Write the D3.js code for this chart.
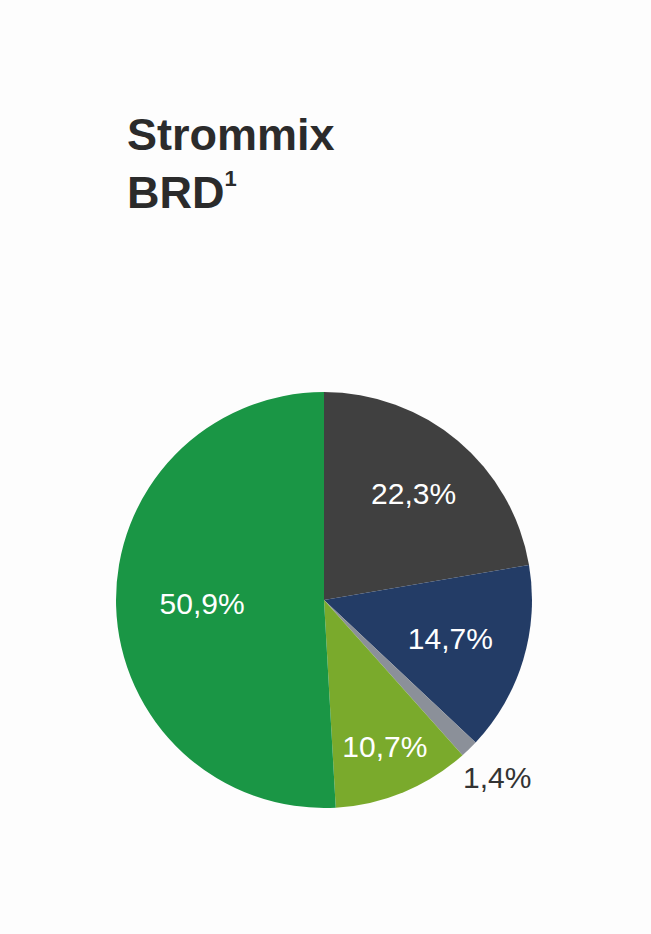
<!DOCTYPE html>
<html>
<head>
<meta charset="utf-8">
<script src="https://cdn.jsdelivr.net/npm/d3@7"></script>
<style>
  body { margin: 0; background: #fdfdfd; }
  text { font-family: "Liberation Sans", Arial, sans-serif; }
</style>
</head>
<body>
<svg id="chart" width="651" height="934"></svg>
<script>
(function () {
  var categories = ['Kohle', 'Erdgas', 'Sonstige', 'Kernenergie', 'Erneuerbare'];
  var values = [22.3, 14.7, 1.4, 10.7, 50.9];
  var labels = ['22,3%', '14,7%', '1,4%', '10,7%', '50,9%'];

  var colours = ['#404040', '#233c66', '#8b9099', '#7aaa2c', '#1a9645'];
  var labelColours = ['#fff', '#fff', '#333', '#fff', '#fff'];
  var labelRadius = [139, 132, 248, 159, 122];

  var svg = d3.select('#chart');
  var cx = 324, cy = 600, r = 208;

  var title = svg.append('text')
    .attr('x', 127).attr('y', 150)
    .attr('font-size', 45).attr('font-weight', 'bold').attr('fill', '#2b2b2b');
  title.append('tspan').attr('x', 127).text('Strommix');
  title.append('tspan').attr('x', 127).attr('dy', 58).text('BRD');
  title.append('tspan').attr('font-size', 22).attr('dy', -22).text('1');

  var pie = d3.pie().sort(null).value(function (d) { return d; });
  var arc = d3.arc().innerRadius(0).outerRadius(r);
  var arcs = pie(values);

  var g = svg.append('g').attr('transform', 'translate(' + cx + ',' + cy + ')');

  g.selectAll('path').data(arcs)
    .enter().append('path')
      .attr('d', arc)
      .attr('fill', function (d, i) { return colours[i]; });

  g.selectAll('text.label').data(arcs)
    .enter().append('text')
      .attr('class', 'label')
      .attr('transform', function (d, i) {
        var a = (d.startAngle + d.endAngle) / 2;
        var lr = labelRadius[i];
        return 'translate(' + (Math.sin(a) * lr) + ',' + (-Math.cos(a) * lr) + ')';
      })
      .attr('text-anchor', 'middle')
      .attr('dominant-baseline', 'central')
      .attr('font-size', 30)
      .attr('fill', function (d, i) { return labelColours[i]; })
      .text(function (d, i) { return labels[i]; });
}());
</script>
</body>
</html>
